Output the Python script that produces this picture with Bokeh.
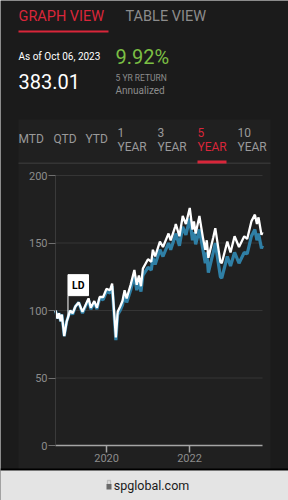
import pandas as pd
from bokeh.plotting import figure
from bokeh.core.properties import value
from bokeh.models import (Range1d, FixedTicker, DatetimeTickFormatter, Label,
                          BoxAnnotation, ColumnDataSource)
from bokeh.embed import file_html
from bokeh.resources import INLINE

# ---------------- data ----------------
dates = ["2018-10-08", "2018-10-25", "2018-11-07", "2018-11-23", "2018-12-03", "2018-12-24",
         "2019-01-15", "2019-02-15", "2019-03-08", "2019-04-01", "2019-04-30", "2019-06-03",
         "2019-07-26", "2019-08-15", "2019-09-15", "2019-10-08", "2019-11-01", "2019-12-02",
         "2019-12-31", "2020-01-31", "2020-02-19", "2020-03-09", "2020-03-23", "2020-04-08",
         "2020-04-30", "2020-05-20", "2020-06-08", "2020-06-26", "2020-07-31", "2020-09-02",
         "2020-09-23", "2020-10-12", "2020-10-30", "2020-11-16", "2020-12-31", "2021-01-29",
         "2021-02-12", "2021-03-04", "2021-04-15", "2021-05-12", "2021-06-30", "2021-07-19",
         "2021-08-27", "2021-09-02", "2021-10-04", "2021-11-02", "2021-11-30", "2022-01-03",
         "2022-01-27", "2022-02-09", "2022-02-24", "2022-03-29", "2022-04-29", "2022-05-20",
         "2022-06-02", "2022-06-16", "2022-07-29", "2022-08-16", "2022-09-30", "2022-10-12",
         "2022-11-30", "2022-12-28", "2023-02-02", "2023-03-13", "2023-04-28", "2023-05-24",
         "2023-06-30", "2023-07-31", "2023-08-18", "2023-09-01", "2023-09-27", "2023-10-06"]
price_return = [100, 94, 98, 92, 97, 81,
                92, 100, 97, 103, 106, 98,
                108, 101, 106, 101, 109, 108,
                114, 113, 118, 95, 78, 97,
                100, 104, 112, 106, 115, 126,
                115, 122, 114, 126, 132, 130,
                139, 134, 145, 140, 150, 145,
                155, 157, 148, 162, 156, 168,
                152, 158, 149, 160, 145, 135,
                143, 128, 143, 150, 125, 124,
                140, 133, 143, 135, 143, 142,
                155, 160, 152, 157, 146, 148]
total_return = [100, 94, 98, 92, 97, 81,
                92, 100, 98, 103, 106, 99,
                109, 102, 107, 102, 110, 110,
                116, 115, 120, 97, 80, 99,
                103, 107, 115, 109, 119, 130,
                119, 126, 118, 131, 138, 136,
                145, 140, 151, 147, 157, 152,
                162, 164, 155, 170, 164, 176,
                160, 166, 157, 170, 154, 145,
                152, 139, 154, 161, 136, 135,
                151, 143, 155, 147, 155, 153,
                166, 171, 164, 169, 156, 158]
y_ticks = [0, 50, 100, 150, 200]
x_tick_dates = ["2020-01-01", "2022-01-01"]
flag_date = "2019-01-26"
flag_value = 95
flag_top = 111
flag_text = "LD"

periods = ["MTD", "QTD", "YTD", "1\nYEAR", "3\nYEAR", "5\nYEAR", "10\nYEAR"]

# ---------------- layout constants ----------------
W, H = 288, 500
FL, FR, FT, FB = 55, 262, 175, 445          # plot area in canvas pixels
PAGE_BG = "#1b1b1b"
PANEL_BG = "#202020"
RED = "#d9263a"
GREY = "#8c8c8c"
FONT = "Roboto"


def ms(d):
    return pd.Timestamp(d).value / 1e6


X0, X1 = ms(dates[0]), ms(dates[-1])
MS_PER_PX = (X1 - X0) / (FR - FL)
U_PER_PX = (y_ticks[-1] - y_ticks[0]) / (FB - FT)


def dx(px):
    return X0 + (px - FL) * MS_PER_PX


def dy(py):
    return y_ticks[0] + (FB - py) * U_PER_PX


src = ColumnDataSource(dict(date=pd.to_datetime(dates), price=price_return, total=total_return))

p = figure(width=W, height=H, output_backend="svg", toolbar_location=None,
           x_axis_type="datetime",
           x_range=Range1d(dx(0), dx(W)), y_range=Range1d(dy(H), dy(0)),
           min_border=0, min_border_left=0, min_border_right=0,
           min_border_top=0, min_border_bottom=0)
p.border_fill_color = PAGE_BG
p.background_fill_color = PAGE_BG
p.outline_line_color = None
p.xgrid.visible = False
p.ygrid.visible = False


def box(l, r, t, b, color, level="annotation"):
    p.add_layout(BoxAnnotation(left=dx(l), right=dx(r), top=dy(t), bottom=dy(b),
                               fill_color=color, fill_alpha=1, line_color=None,
                               level=level))


# panel behind the tabs and chart
box(18, 270, 119, 469, PANEL_BG, level="image")

# grid lines (horizontal, over the data span)
grid_y = y_ticks[1:]
p.segment(x0=[pd.Timestamp(dates[0])] * len(grid_y), y0=grid_y,
          x1=[pd.Timestamp(dates[-1])] * len(grid_y), y1=grid_y,
          line_color="#353535", line_width=1)

# y axis (fixed at the start of the data)
p.yaxis.fixed_location = X0
p.yaxis.bounds = (y_ticks[0], y_ticks[-1])
p.yaxis.ticker = FixedTicker(ticks=y_ticks)
p.yaxis.axis_line_color = "#3a3a3a"
p.yaxis.major_tick_line_color = "#707070"
p.yaxis.major_tick_out = 7
p.yaxis.major_tick_in = 0
p.yaxis.minor_tick_line_color = None
p.yaxis.major_label_text_color = GREY
p.yaxis.major_label_text_font = FONT
p.yaxis.major_label_text_font_size = "11px"
p.yaxis.major_label_standoff = 1

# x axis (fixed at y = 0)
p.xaxis.fixed_location = y_ticks[0]
p.xaxis.bounds = (X0, X1)
p.xaxis.ticker = FixedTicker(ticks=[ms(d) for d in x_tick_dates])
p.xaxis.formatter = DatetimeTickFormatter(years="%Y", months="%Y", days="%Y", hours="%Y")
p.xaxis.axis_line_color = "#a5a5a5"
p.xaxis.axis_line_width = 1.5
p.xaxis.major_tick_line_color = "#a5a5a5"
p.xaxis.major_tick_line_width = 1.5
p.xaxis.major_tick_out = 7
p.xaxis.major_tick_in = 0
p.xaxis.minor_tick_line_color = None
p.xaxis.major_label_text_color = GREY
p.xaxis.major_label_text_font = FONT
p.xaxis.major_label_text_font_size = "11px"
p.xaxis.major_label_standoff = 1

# series
p.line("date", "price", source=src, color="#2f7fa5", line_width=3.2)
p.line("date", "total", source=src, color="#ffffff", line_width=2.3)

# LD flag
fd = pd.Timestamp(flag_date)
p.segment(x0=[fd], y0=[flag_value], x1=[fd], y1=[flag_top], line_color="#ffffff", line_width=1)
p.text(x=[fd], y=[flag_top], text=[flag_text], anchor="bottom_left", padding=4,
       background_fill_color="#ffffff", border_line_color="#ffffff",
       text_color="#000000", text_font=value(FONT),
       text_font_size="10.5px", text_font_style="bold")


# ---------------- header texts ----------------
def lab(X, Y, text, size, color, style="normal", align="left"):
    p.add_layout(Label(x=dx(X), y=dy(Y), text=text,
                       text_font_size=size, text_color=color, text_font=FONT,
                       text_font_style=style, text_baseline="middle", text_align=align))


lab(18, 16, "GRAPH VIEW", "14.5px", RED)
lab(125, 16, "TABLE VIEW", "14.5px", GREY)
box(18, 108, 30, 32, RED)

lab(18, 56, "As of Oct 06, 2023", "10px", "#ffffff")
lab(18, 81, "383.01", "20px", "#ffffff")
lab(115, 56, "9.92%", "20px", "#7bbf44")
lab(115, 77, "5 YR RETURN", "8.5px", GREY)
lab(115, 90, "Annualized", "10px", GREY)

tab_x = [18, 53, 85, 117, 157, 197, 237]
for tx, t in zip(tab_x, periods):
    col = RED if t.startswith("5") else "#9a9a9a"
    parts = t.split("\n")
    if len(parts) == 1:
        lab(tx, 138, parts[0], "12px", col)
    else:
        lab(tx, 132, parts[0], "12px", col)
        lab(tx, 146, parts[1], "12px", col)
box(18, 270, 162, 163.5, "#343434")
box(197, 226, 160, 163, RED)

# bottom browser bar
box(0, 288, 468, 470, "#000000")
box(0, 288, 470, 500, "#e4e4e4")
box(106, 111, 483.5, 489, "#6a6a6a")
p.add_layout(BoxAnnotation(left=dx(107), right=dx(110), top=dy(480), bottom=dy(484),
                           fill_alpha=0, line_color="#6a6a6a", line_width=1.3))
lab(151, 485, "spglobal.com", "12.5px", "#1a1a1a", align="center")

open("out.html", "w").write(file_html(p, INLINE))
